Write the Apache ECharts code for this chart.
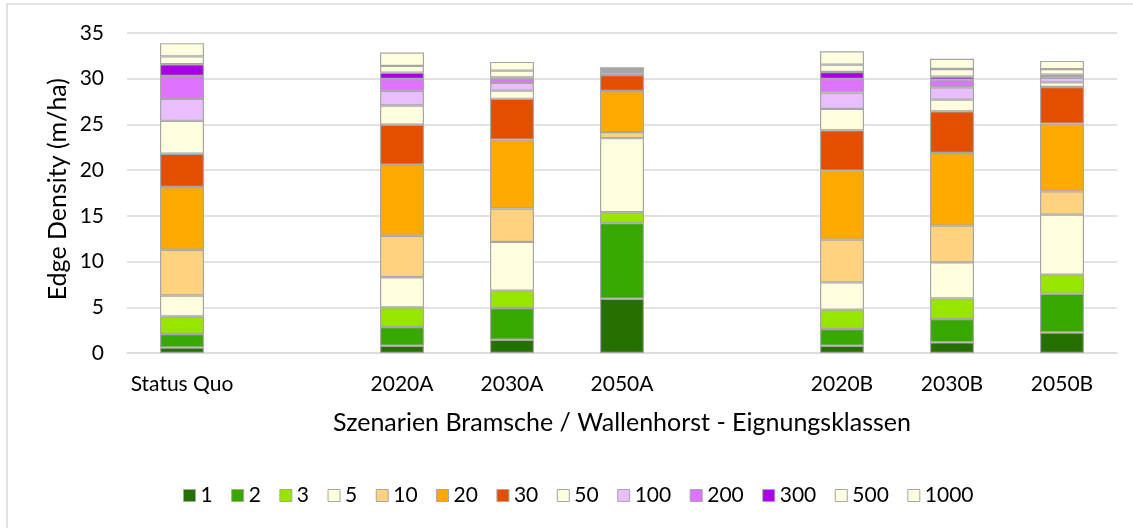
<!DOCTYPE html>
<html>
<head>
<meta charset="utf-8">
<script src="https://cdn.jsdelivr.net/npm/echarts@6/dist/echarts.min.js"></script>
<style>
html,body{margin:0;padding:0;background:#fff;}
#chart{width:1133px;height:528px;}
</style>
</head>
<body>
<div id="chart"></div>
<script>
const categories = ['Status Quo', '', '2020A', '2030A', '2050A', '', '2020B', '2030B', '2050B'];
const seriesNames = ['1', '2', '3', '5', '10', '20', '30', '50', '100', '200', '300', '500', '1000'];
const colors = ['#267000', '#38a800', '#98e600', '#ffffe0', '#ffd280', '#ffaa00', '#e34e00',
                '#ffffe0', '#e8beff', '#df73ff', '#a900e6', '#ffffe0', '#ffffe0'];
// values per class, per category (null for spacer categories)
const v1    = [0.60, null, 0.80, 1.45, 5.94, null, 0.80, 1.16, 2.25];
const v2    = [1.47, null, 2.04, 3.47, 8.26, null, 1.83, 2.56, 4.24];
const v3    = [1.92, null, 2.15, 1.90, 1.20, null, 2.11, 2.25, 2.08];
const v5    = [2.30, null, 3.30, 5.33, 8.10, null, 2.98, 3.94, 6.56];
const v10   = [5.00, null, 4.53, 3.65, 0.66, null, 4.68, 4.02, 2.55];
const v20   = [6.86, null, 7.77, 7.54, 4.50, null, 7.55, 7.95, 7.41];
const v30   = [3.64, null, 4.38, 4.46, 1.75, null, 4.40, 4.55, 4.01];
const v50   = [3.60, null, 2.10, 0.90, 0.20, null, 2.35, 1.28, 0.50];
const v100  = [2.40, null, 1.60, 0.84, 0.15, null, 1.80, 1.35, 0.50];
const v200  = [2.50, null, 1.30, 0.45, 0.10, null, 1.47, 0.84, 0.20];
const v300  = [1.30, null, 0.70, 0.15, 0.05, null, 0.77, 0.33, 0.15];
const v500  = [0.85, null, 0.73, 0.75, 0.15, null, 0.80, 0.84, 0.60];
const v1000 = [1.45, null, 1.47, 0.95, 0.20, null, 1.46, 1.10, 0.90];
const allValues = [v1, v2, v3, v5, v10, v20, v30, v50, v100, v200, v300, v500, v1000];
const yTicks = [0, 5, 10, 15, 20, 25, 30, 35];
const yTitle = 'Edge Density (m/ha)';

const FONT = 'Lato, "Open Sans", sans-serif';
const chart = echarts.init(document.getElementById('chart'), null, {renderer: 'canvas'});
chart.setOption({
  animation: false,
  backgroundColor: '#fff',
  graphic: [{
    type: 'polyline',
    shape: {points: [[7, 540], [7, 4], [1140, 4]]},
    style: {stroke: '#d9d9d9', lineWidth: 1.5, fill: null},
    silent: true
  }, {
    type: 'text',
    left: 45, top: 78,
    style: {text: yTitle, font: '25px ' + FONT, fill: '#000'},
    rotation: Math.PI / 2,
    silent: true
  }],
  grid: {left: 127, right: 16, top: 33, bottom: 175, containLabel: false},
  legend: {
    left: 183,
    top: 485,
    padding: 0,
    itemWidth: 12,
    itemHeight: 12,
    itemGap: 18.5,
    icon: 'rect',
    data: seriesNames,
    textStyle: {fontFamily: FONT, fontSize: 21, color: '#000', padding: [0, 0, 0, 0]},
    itemStyle: {borderColor: '#a6a6a6', borderWidth: 1}
  },
  xAxis: {
    type: 'category',
    data: categories,
    name: 'Szenarien Bramsche / Wallenhorst - Eignungsklassen',
    nameLocation: 'middle',
    nameMoveOverlap: false,
    nameGap: 57,
    nameTextStyle: {fontFamily: FONT, fontSize: 25, color: '#000', verticalAlign: 'top'},
    axisLine: {lineStyle: {color: '#d9d9d9', width: 1.5}},
    axisTick: {show: false},
    axisLabel: {fontFamily: FONT, fontSize: 21, color: '#000', margin: 21, interval: 0}
  },
  yAxis: {
    type: 'value',
    min: 0, max: 35, interval: 5,
    axisLine: {show: false},
    axisTick: {show: false},
    splitLine: {lineStyle: {color: '#d9d9d9', width: 1.5}},
    axisLabel: {fontFamily: FONT, fontSize: 21, color: '#000', margin: 23,
      formatter: function (v) { return yTicks.indexOf(v) >= 0 ? String(v) : ''; }}
  },
  series: seriesNames.map(function (n, i) {
    return {
      name: n,
      type: 'bar',
      stack: 'total',
      barWidth: '40%',
      data: allValues[i],
      itemStyle: {color: colors[i], borderColor: '#a6a6a6', borderWidth: 1.2}
    };
  })
});
</script>
</body>
</html>
